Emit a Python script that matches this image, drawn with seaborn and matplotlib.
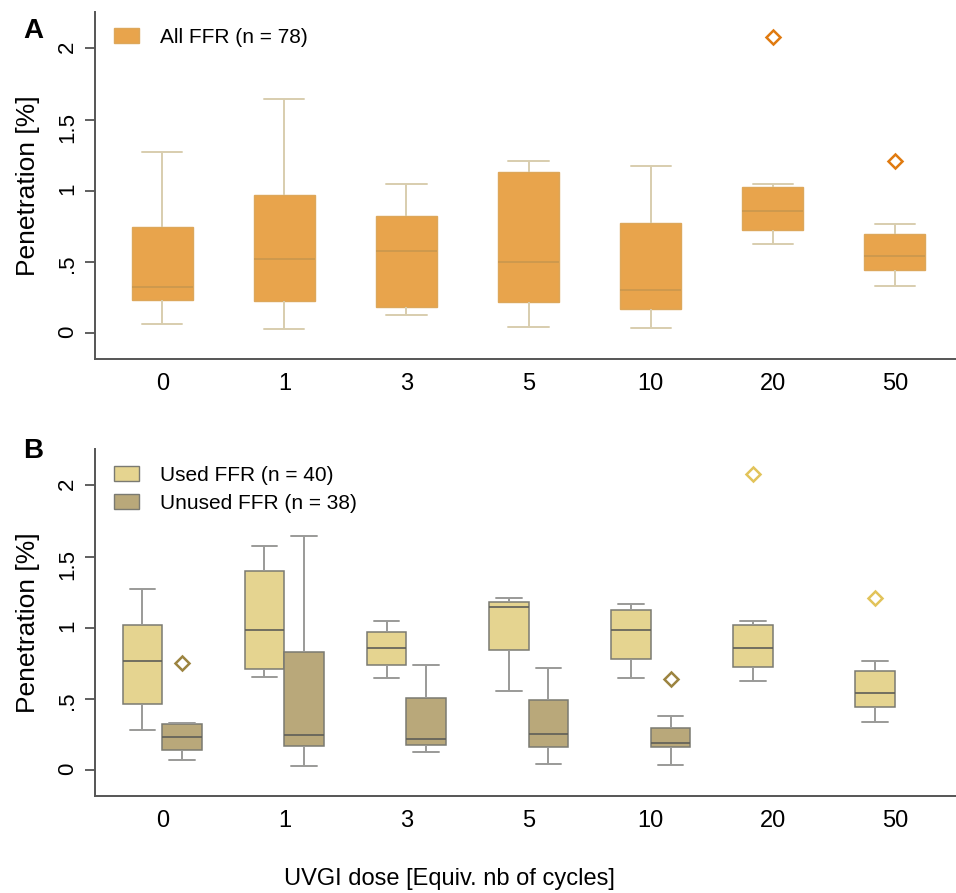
import numpy as np
import pandas as pd
import matplotlib.pyplot as plt
import matplotlib.patches as mpatches
import seaborn as sns

# UVGI doses (categories)
doses = ["0", "1", "3", "5", "10", "20", "50"]

# Panel A - all FFR: five-number summary
all_lo = [0.065, 0.030, 0.126, 0.044, 0.035, 0.625, 0.334]
all_q1 = [0.234, 0.229, 0.187, 0.220, 0.173, 0.723, 0.444]
all_med = [0.327, 0.521, 0.580, 0.498, 0.302, 0.861, 0.540]
all_q3 = [0.748, 0.971, 0.825, 1.130, 0.772, 1.025, 0.695]
all_hi = [1.274, 1.644, 1.048, 1.211, 1.172, 1.046, 0.765]
all_out_dose = ["20", "50"]
all_out_val = [2.082, 1.209]

# Panel B - used FFR
used_lo = [0.285, 0.652, 0.650, 0.554, 0.645, 0.626, 0.336]
used_q1 = [0.465, 0.708, 0.738, 0.848, 0.778, 0.722, 0.447]
used_med = [0.764, 0.988, 0.860, 1.143, 0.988, 0.858, 0.545]
used_q3 = [1.023, 1.397, 0.970, 1.178, 1.122, 1.023, 0.696]
used_hi = [1.276, 1.575, 1.049, 1.211, 1.168, 1.045, 0.769]
used_out_dose = ["20", "50"]
used_out_val = [2.082, 1.211]

# Panel B - unused FFR (no data at 20 and 50)
unused_doses = ["0", "1", "3", "5", "10"]
unused_lo = [0.070, 0.030, 0.126, 0.045, 0.035]
unused_q1 = [0.140, 0.168, 0.178, 0.164, 0.164]
unused_med = [0.236, 0.248, 0.222, 0.252, 0.192]
unused_q3 = [0.322, 0.832, 0.509, 0.493, 0.299]
unused_hi = [0.329, 1.645, 0.738, 0.715, 0.381]
unused_out_dose = ["0", "10"]
unused_out_val = [0.750, 0.638]

yticks = [0, 0.5, 1, 1.5, 2]
ytick_labels = ["0", ".5", "1", "1.5", "2"]

lab_all = "All FFR (n = 78)"
lab_used = "Used FFR (n = 40)"
lab_unused = "Unused FFR (n = 38)"


def long_table(group, dose_list, *stats):
    rows = []
    for i, d in enumerate(dose_list):
        for s in stats:
            rows.append({"dose": d, "value": s[i], "group": group})
    return rows


sns.set_style("ticks")
plt.rcParams["font.family"] = ["Liberation Sans", "DejaVu Sans"]
plt.rcParams["text.color"] = "black"
plt.rcParams["axes.labelcolor"] = "black"
plt.rcParams["xtick.color"] = "black"

fig = plt.figure(figsize=(9.56, 8.93), dpi=100)
axA = fig.add_axes([0.0994, 0.598, 0.9006, 0.3886])
axB = fig.add_axes([0.0994, 0.1086, 0.9006, 0.3886])

# ---- Panel A ----
dfA = pd.DataFrame(long_table(lab_all, doses, all_lo, all_q1, all_med, all_q3, all_hi))
c_all = "#E8A44C"
sns.boxplot(data=dfA, x="dose", y="value", hue="group", order=doses,
            palette={lab_all: c_all}, saturation=1, width=0.5, whis=(0, 100),
            showfliers=False, legend=False, ax=axA, capwidths=0.33,
            boxprops={"edgecolor": "#DDA75A", "linewidth": 1.0},
            medianprops={"color": "#C9974E", "linewidth": 1.2},
            whiskerprops={"color": "#D8CDAE", "linewidth": 1.4},
            capprops={"color": "#D8CDAE", "linewidth": 1.4})
for d, v in zip(all_out_dose, all_out_val):
    axA.plot(doses.index(d), v, marker="D", ms=7.2, mfc="none",
             mec="#E07A10", mew=1.8, ls="none")
axA.legend(handles=[mpatches.Patch(facecolor=c_all, edgecolor="#DDA75A", label=lab_all)],
           loc="upper left", bbox_to_anchor=(0.022, 0.955), frameon=False,
           fontsize=15, handlelength=1.2, handleheight=0.7, handletextpad=1.0,
           borderpad=0, borderaxespad=0)

# ---- Panel B ----
dfB = pd.DataFrame(
    long_table(lab_used, doses, used_lo, used_q1, used_med, used_q3, used_hi)
    + long_table(lab_unused, unused_doses, unused_lo, unused_q1, unused_med,
                 unused_q3, unused_hi))
c_used = "#E5D490"
c_unused = "#B9A87A"
width_b = 0.65
sns.boxplot(data=dfB, x="dose", y="value", hue="group", order=doses,
            hue_order=[lab_used, lab_unused],
            palette={lab_used: c_used, lab_unused: c_unused}, saturation=1,
            width=width_b, gap=0, dodge=True, whis=(0, 100), showfliers=False,
            legend=False, ax=axB, capwidths=0.21,
            boxprops={"edgecolor": "#7A7A72", "linewidth": 1.1},
            medianprops={"color": "#5E5E58", "linewidth": 1.2},
            whiskerprops={"color": "#9A9A98", "linewidth": 1.4},
            capprops={"color": "#9A9A98", "linewidth": 1.4})
off = width_b / 4
for d, v in zip(used_out_dose, used_out_val):
    axB.plot(doses.index(d) - off, v, marker="D", ms=7.2, mfc="none",
             mec="#E2C35A", mew=1.8, ls="none")
for d, v in zip(unused_out_dose, unused_out_val):
    axB.plot(doses.index(d) + off, v, marker="D", ms=7.2, mfc="none",
             mec="#9C8440", mew=1.8, ls="none")
axB.legend(handles=[mpatches.Patch(facecolor=c_used, edgecolor="#7A7A72", label=lab_used),
                    mpatches.Patch(facecolor=c_unused, edgecolor="#7A7A72", label=lab_unused)],
           loc="upper left", bbox_to_anchor=(0.022, 0.952), frameon=False,
           fontsize=15, handlelength=1.2, handleheight=0.7, handletextpad=1.0,
           labelspacing=0.45, borderpad=0, borderaxespad=0)

for ax in (axA, axB):
    ax.set_ylim(-0.18, 2.255)
    ax.set_xlim(-0.55, 6.5)
    ax.set_yticks(yticks, ytick_labels)
    ax.tick_params(axis="y", which="major", left=True, length=7, width=1.2,
                   color="#444444", direction="out", pad=5,
                   labelsize=16, labelrotation=90, labelcolor="black")
    ax.tick_params(axis="x", bottom=False, length=0, pad=10, labelsize=17)
    ax.set_xlabel("")
    ax.set_ylabel("Penetration [%]", fontsize=19, va="center")
    ax.yaxis.set_label_coords(-0.078, 0.5)
    sns.despine(ax=ax)
    for side in ("left", "bottom"):
        ax.spines[side].set_color("#555555")
        ax.spines[side].set_linewidth(1.4)
    # make sure the left tick marks are drawn
    for tk in ax.yaxis.get_major_ticks():
        tk.tick1line.set_visible(True)
        tk.tick1line.set_markersize(7)
        tk.tick1line.set_markeredgewidth(1.2)
        tk.tick1line.set_markeredgecolor("#444444")
        tk.tick1line.set_clip_on(False)
        tk.tick1line.set_zorder(5)

fig.text(0.0345, 0.965, "A", fontsize=20, fontweight="bold", ha="center", va="center")
fig.text(0.0345, 0.495, "B", fontsize=20, fontweight="bold", ha="center", va="center")
fig.text(0.47, 0.0157, "UVGI dose [Equiv. nb of cycles]", fontsize=17,
         ha="center", va="center")

fig.savefig("out.png", dpi=100)
